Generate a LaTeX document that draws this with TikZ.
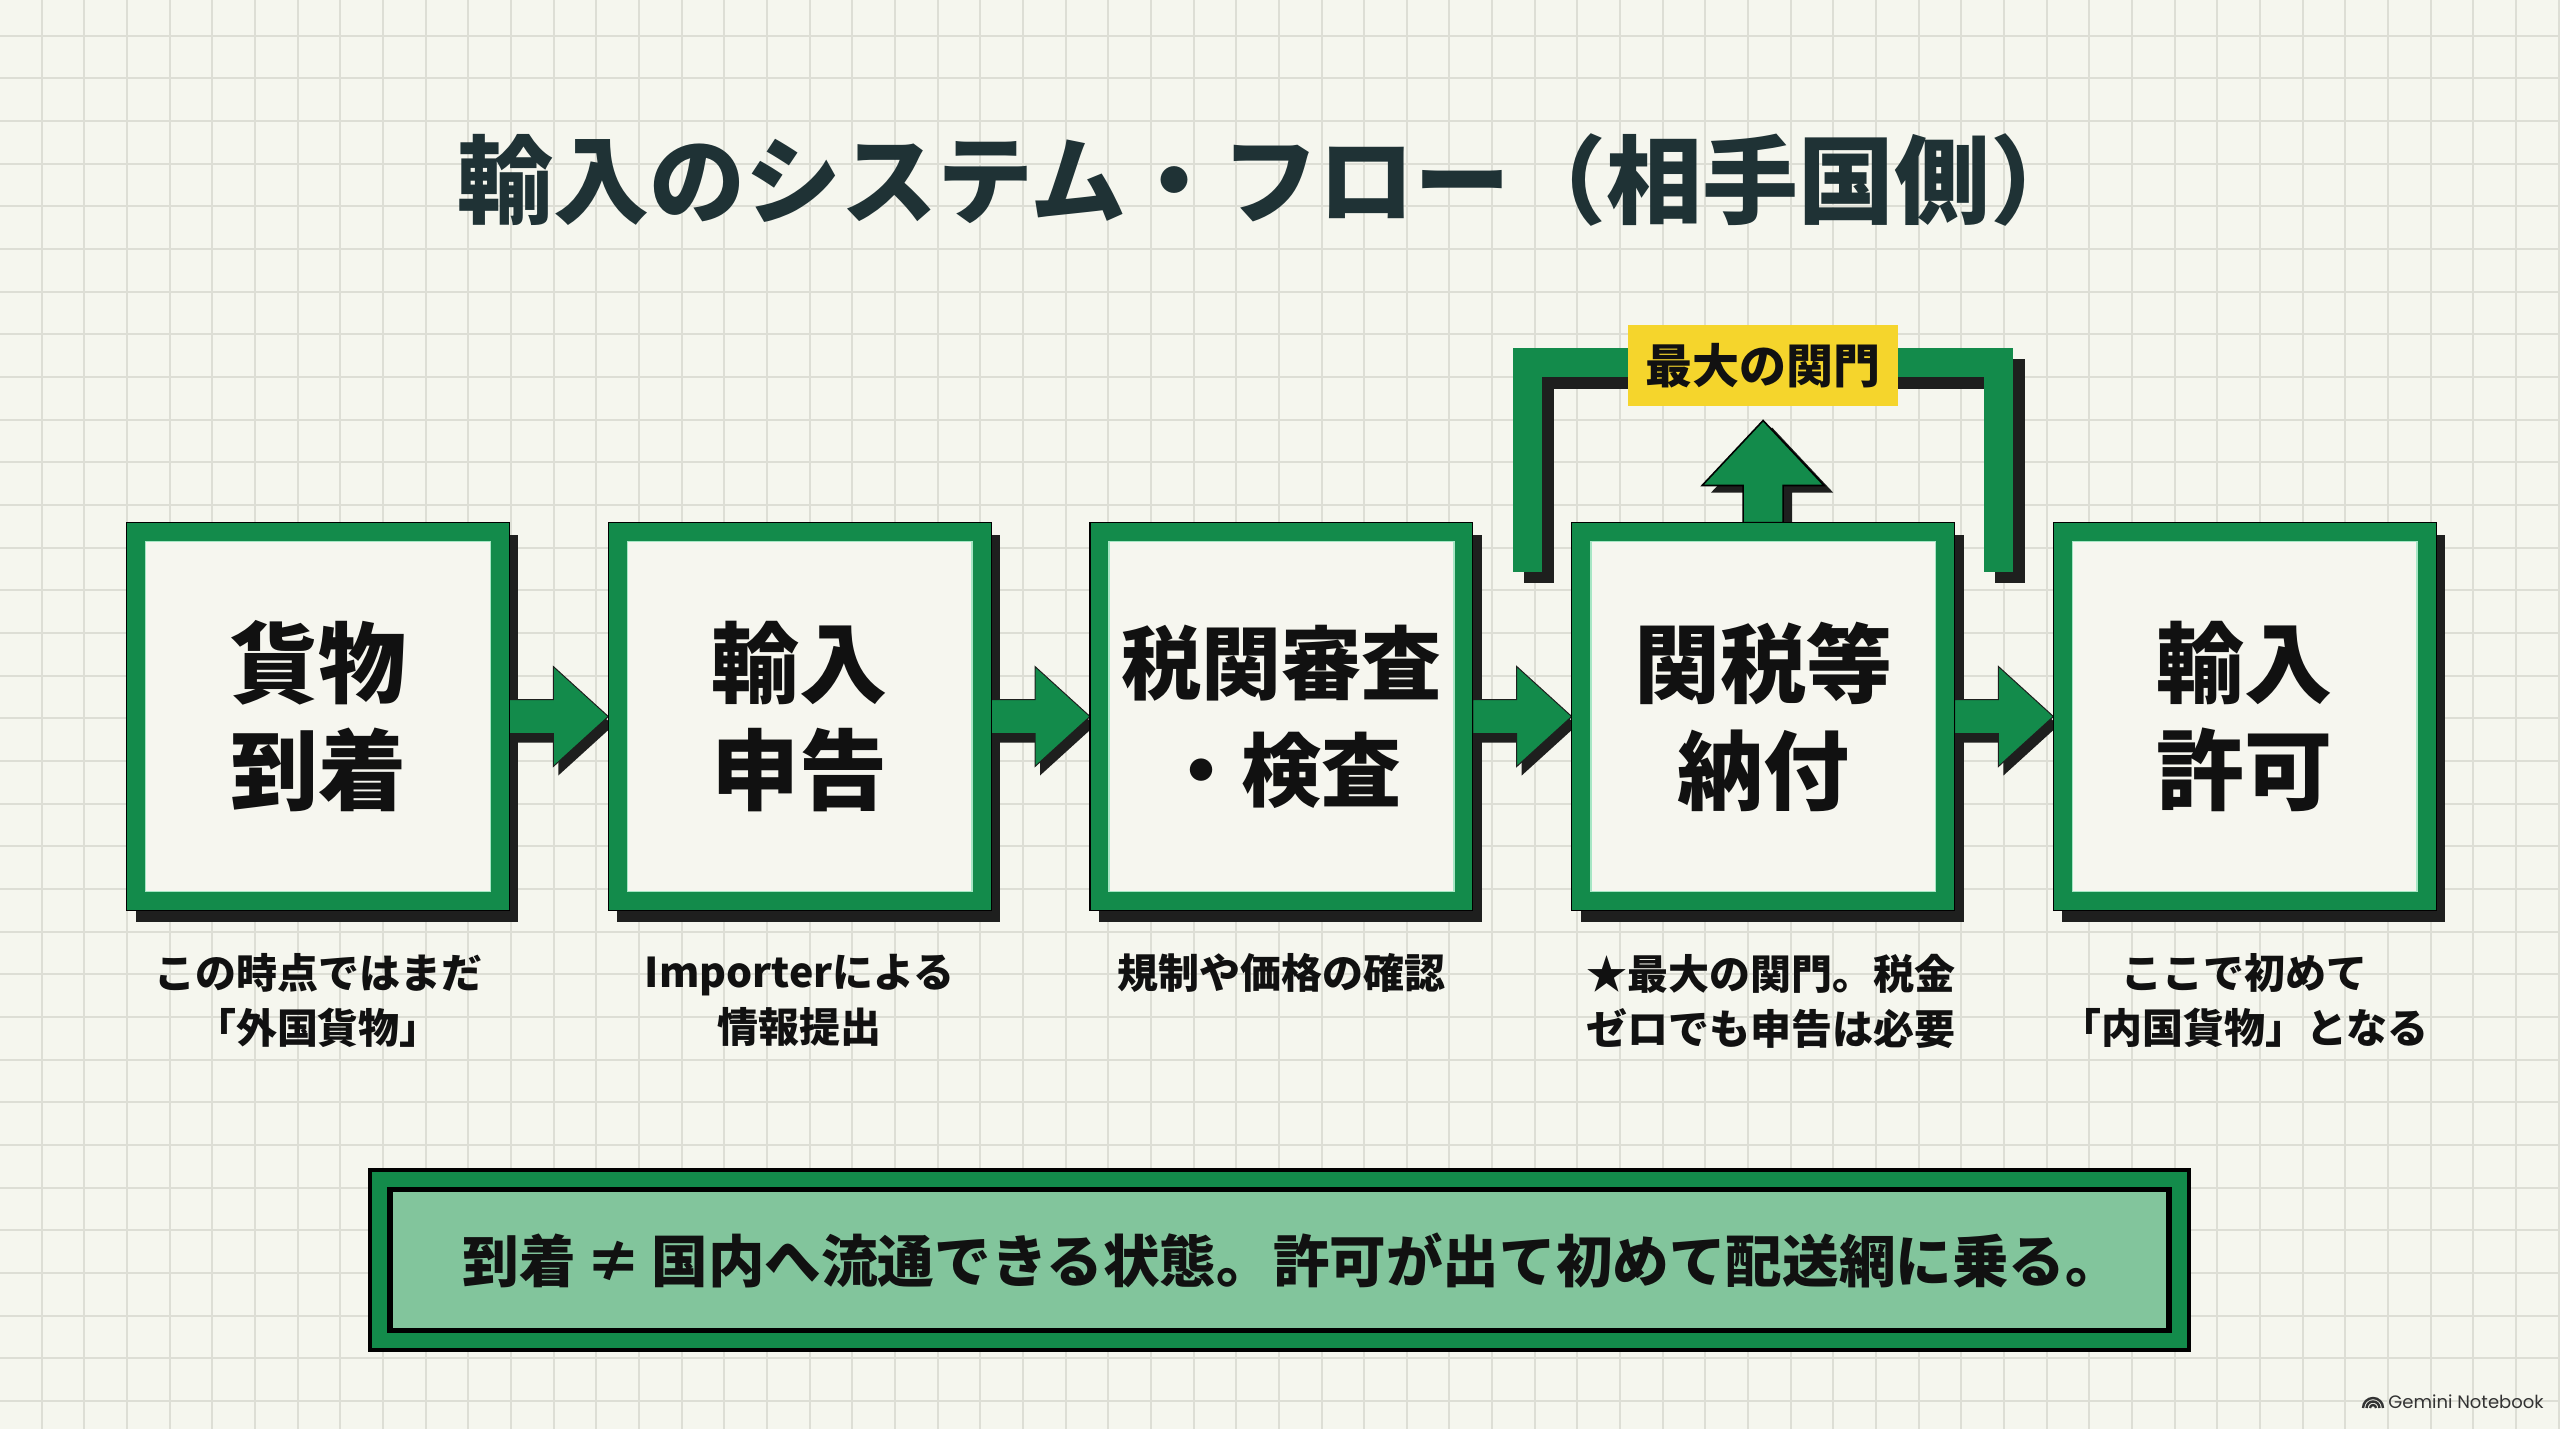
\documentclass[tikz,border=0pt]{standalone}
\usepackage{fontspec}
\newfontfamily\jp{Noto Sans CJK JP}
\newfontfamily\wmfont{Poppins}
\usetikzlibrary{calc,backgrounds}
\definecolor{bgc}{HTML}{F5F6EE}
\definecolor{gridc}{HTML}{DDDED5}
\definecolor{grn}{HTML}{138B4B}
\definecolor{boxfill}{HTML}{F6F6EF}
\definecolor{shad}{HTML}{1E1F1E}
\definecolor{mint}{HTML}{A6E6C4}
\definecolor{yel}{HTML}{F5D52C}
\definecolor{lightg}{HTML}{82C59C}
\definecolor{titlec}{HTML}{1F3235}
\definecolor{txt}{HTML}{111111}
\definecolor{wmc}{HTML}{333333}
% flow arrow between two nodes, shifted by (#3,#4)
\newcommand\flowarrowpath[4]{($(#1.east)+(#3,-17+#4)$) -- ($(#2.west)+(-55+#3,-17+#4)$) -- ($(#2.west)+(-55+#3,-50+#4)$) -- ($(#2.west)+(#3,#4)$) -- ($(#2.west)+(-55+#3,50+#4)$) -- ($(#2.west)+(-55+#3,17+#4)$) -- ($(#1.east)+(#3,17+#4)$) -- cycle}
\newcommand\uparrowpath[2]{($(b4.north)+(-20+#1,#2)$) -- ($(uptip)+(-20+#1,65+#2)$) -- ($(uptip)+(-61+#1,65+#2)$) -- ($(uptip)+(#1,#2)$) -- ($(uptip)+(61+#1,65+#2)$) -- ($(uptip)+(20+#1,65+#2)$) -- ($(b4.north)+(20+#1,#2)$) -- cycle}
\begin{document}
\begin{tikzpicture}[x=0.5pt,y=-0.5pt,
  stepbox/.style={minimum width=191pt, minimum height=193.5pt, inner sep=0pt, align=center, text=txt,
    font=\jp\bfseries\fontsize{44pt}{53.5pt}\selectfont},
  capnode/.style={anchor=north, inner sep=0pt, align=center, text=txt,
    font=\jp\bfseries\fontsize{20.5pt}{27.5pt}\selectfont},
  gatenode/.style={minimum width=135pt, minimum height=40.5pt, inner sep=0pt, fill=yel, text=txt,
    font=\jp\bfseries\fontsize{23.5pt}{28pt}\selectfont},
  bannernode/.style={minimum width=911.5pt, minimum height=92pt, inner sep=0pt, text=txt,
    font=\jp\bfseries\fontsize{28.3pt}{32pt}\selectfont},
  titlenode/.style={inner sep=0pt, text=titlec, font=\jp\bfseries\fontsize{48pt}{56pt}\selectfont},
  arrowfill/.style={fill=grn, draw=shad, line width=0.5pt, line join=miter},
  shadowfill/.style={fill=shad},
]
\useasboundingbox (0,0) rectangle (2560,1429);

% title
\node[titlenode] (title) at (1272,180) {輸入のシステム・フロー（相手国側）};

% boxes
\node[stepbox] (b1) at (318,716.5) {貨物\\到着};
\node[stepbox] (b2) at (799.7,716.5) {輸入\\申告};
\node[stepbox, font=\jp\bfseries\fontsize{40pt}{53.5pt}\selectfont] (b3) at (1281.4,716.5) {税関審査\\・検査};
\node[stepbox, font=\jp\bfseries\fontsize{43pt}{53.5pt}\selectfont] (b4) at (1763.1,716.5) {関税等\\納付};
\node[stepbox] (b5) at (2244.8,716.5) {輸入\\許可};

% captions
\node[capnode] (c1) at ($(b1.south)+(0,43)$) {この時点ではまだ\\「外国貨物」};
\node[capnode] (c2) at ($(b2.south)+(0,43)$) {Importerによる\\情報提出};
\node[capnode] (c3) at ($(b3.south)+(0,43)$) {規制や価格の確認};
\node[capnode] (c4) at ($(b4.south)+(8,43)$) {★最大の関門。税金\\ゼロでも申告は必要};
\node[capnode] (c5) at ($(b5.south)+(0,43)$) {ここで初めて\\「内国貨物」となる};

% gate label
\node[gatenode] (gate) at ($(b4.north)+(0,-157)$) {最大の関門};
\coordinate (uptip) at ($(gate.south)+(0,14)$);

% banner
\node[bannernode] (note) at (1279.5,1260) {\hspace*{13pt}到着\,≠\,国内へ流通できる状態。許可が出て初めて配送網に乗る。};

% watermark
\node[anchor=west, inner sep=0pt, text=wmc, font=\wmfont\fontsize{9pt}{10pt}\selectfont] (wm) at (2388,1402) {Gemini Notebook};
\coordinate (wmicon) at ($(wm.west)+(-15,6)$);

\begin{scope}[on background layer]
  % paper and grid
  \fill[bgc] (0,0) rectangle (2560,1429);
  \foreach \i in {0,...,59} \draw[gridc, line width=1pt] ({41.7+42.66*\i},0) -- ++(0,1429);
  \foreach \j in {0,...,32} \draw[gridc, line width=1pt] (0,{35.7+42.66*\j}) -- ++(2560,0);
  % box shadows
  \foreach \n in {b1,b2,b3,b4,b5}
    \fill[shad] ($(\n.north west)+(9,12)$) rectangle ($(\n.south east)+(9,12)$);
  % bracket
  \draw[shad, line width=15pt, line join=miter]
    ($(b4.north west)+(-44+11,49+11)$) -- ($(b4.north west)+(-44+11,-160+11)$)
    -- ($(b4.north east)+(44+11,-160+11)$) -- ($(b4.north east)+(44+11,49+11)$);
  \draw[grn, line width=14.5pt, line join=miter]
    ($(b4.north west)+(-44,49)$) -- ($(b4.north west)+(-44,-160)$)
    -- ($(b4.north east)+(44,-160)$) -- ($(b4.north east)+(44,49)$);
  % flow arrows
  \foreach \a/\b in {b1/b2,b2/b3,b3/b4,b4/b5} {
    \fill[shadowfill] \flowarrowpath{\a}{\b}{5}{9};
    \filldraw[arrowfill] \flowarrowpath{\a}{\b}{0}{0};
  }
  % up arrow
  \fill[shadowfill] \uparrowpath{9}{7};
  \filldraw[arrowfill, draw=black, line width=0.8pt] \uparrowpath{0}{0};
  % box bodies
  \foreach \n in {b1,b2,b3,b4,b5} {
    \fill[grn] (\n.north west) rectangle (\n.south east);
    \draw[black, line width=0.6pt] (\n.north west) rectangle (\n.south east);
    \fill[boxfill] ($(\n.north west)+(19,19)$) rectangle ($(\n.south east)+(-19,-19)$);
    \draw[mint, line width=0.8pt] ($(\n.north west)+(19,19)$) rectangle ($(\n.south east)+(-19,-19)$);
  }
  % banner frame
  \fill[black] (note.north west) rectangle (note.south east);
  \fill[grn] ($(note.north west)+(4,4)$) rectangle ($(note.south east)+(-4,-4)$);
  \fill[black] ($(note.north west)+(19,19)$) rectangle ($(note.south east)+(-19,-19)$);
  \fill[lightg] ($(note.north west)+(25,24)$) rectangle ($(note.south east)+(-25,-24)$);
  % watermark icon
  \foreach \r in {10,6.5,3}
    \draw[wmc, line width=1.2pt] ($(wmicon)+(-\r,0)$) arc[start angle=180, end angle=360, radius=\r];
\end{scope}
\end{tikzpicture}
\end{document}
